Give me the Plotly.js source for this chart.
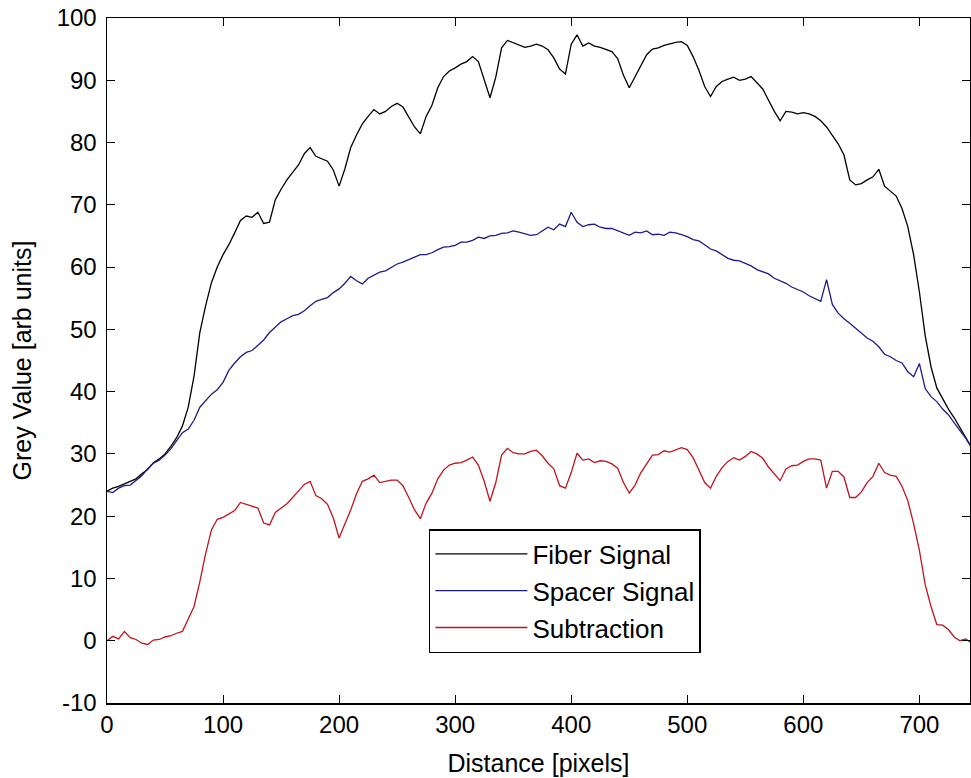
<!DOCTYPE html>
<html>
<head>
<meta charset="utf-8">
<script src="https://cdn.plot.ly/plotly-3.0.1.min.js"></script>
<style>html,body{margin:0;padding:0;background:#fff;}#chart{width:971px;height:778px;}</style>
</head>
<body>
<div id="chart"></div>
<script>
// Distance samples (pixels)
const distance = [0,5,10,15,20,25,30,35,40,45,50,55,60,65,70,75,80,85,90,95,
100,105,110,115,120,125,130,135,140,145,150,155,160,165,170,175,180,185,190,195,
200,205,210,215,220,225,230,235,240,245,250,255,260,265,270,275,280,285,290,295,
300,305,310,315,320,325,330,335,340,345,350,355,360,365,370,375,380,385,390,395,
400,405,410,415,420,425,430,435,440,445,450,455,460,465,470,475,480,485,490,495,
500,505,510,515,520,525,530,535,540,545,550,555,560,565,570,575,580,585,590,595,
600,605,610,615,620,625,630,635,640,645,650,655,660,665,670,675,680,685,690,695,
700,705,710,715,720,725,730,735,740,745];

const fiberSignal = [24.0,24.5,24.8,25.2,25.5,26.0,26.8,27.5,28.6,29.2,30.0,31.2,32.6,34.5,37.5,42.5,49.5,53.8,57.5,60.0,
62.0,63.6,65.5,67.5,68.2,68.0,68.8,67.0,67.2,70.8,72.5,74.0,75.2,76.4,78.2,79.2,77.8,77.4,77.0,75.6,
73.0,75.8,79.2,81.2,83.0,84.2,85.3,84.6,85.0,85.8,86.3,85.7,84.2,82.5,81.4,84.2,86.0,88.8,90.6,91.5,
92.0,92.6,93.0,93.8,93.0,90.2,87.2,90.5,95.2,96.4,96.0,95.6,95.3,95.5,95.8,95.5,94.9,93.6,91.8,91.0,
95.8,97.3,95.5,96.0,95.5,95.3,95.0,94.6,93.5,90.8,88.8,90.6,92.5,94.1,95.0,95.2,95.6,95.9,96.1,96.2,
95.6,93.8,91.6,89.0,87.4,89.0,89.8,90.2,90.5,90.0,90.2,90.6,89.6,88.6,86.8,85.0,83.5,85.0,84.9,84.6,
84.8,84.6,84.2,83.5,82.5,81.2,79.8,78.0,74.0,73.2,73.4,74.0,74.5,75.7,73.0,72.2,71.4,69.4,66.5,62.0,
56.0,49.0,44.0,40.6,38.8,37.2,35.8,34.2,32.6,31.0];

const spacerSignal = [24.0,23.8,24.5,24.9,25.0,25.8,26.5,27.6,28.5,29.0,29.8,30.8,32.0,33.4,34.0,35.4,37.5,38.5,39.6,40.3,
41.5,43.4,44.6,45.6,46.3,46.6,47.5,48.3,49.5,50.3,51.2,51.7,52.2,52.4,53.0,53.8,54.5,54.8,55.1,55.9,
56.5,57.4,58.5,57.8,57.3,58.2,58.7,59.2,59.4,60.0,60.5,60.8,61.2,61.6,62.0,62.0,62.3,62.8,63.2,63.3,
63.5,64.0,64.0,64.3,64.8,64.6,65.0,65.1,65.4,65.5,65.8,65.6,65.3,65.1,65.2,65.8,66.4,66.0,66.9,66.5,
68.8,67.2,66.5,66.8,66.9,66.4,66.2,66.2,65.8,65.4,65.1,65.6,65.5,65.8,65.2,65.3,65.1,65.6,65.5,65.2,
64.9,64.4,64.2,63.6,62.9,62.6,62.0,61.4,61.1,61.0,60.6,60.2,59.6,59.3,58.9,58.2,57.8,57.4,56.8,56.4,
56.0,55.4,55.0,54.5,58.0,54.0,52.6,51.7,51.0,50.2,49.5,48.6,48.1,47.2,46.0,45.6,45.0,44.6,43.2,42.4,
44.5,40.5,39.2,38.4,37.2,36.3,35.0,33.8,32.5,31.0];

const subtraction = [0.0,0.7,0.3,1.5,0.5,0.2,-0.4,-0.6,0.1,0.2,0.6,0.8,1.2,1.5,3.5,5.5,9.5,14.0,17.8,19.5,
19.8,20.4,20.9,22.2,21.9,21.6,21.3,18.9,18.6,20.6,21.3,22.0,23.0,24.0,25.1,25.6,23.3,22.8,21.9,19.7,
16.5,18.8,21.0,23.6,25.6,26.0,26.6,25.4,25.6,25.8,25.8,24.9,23.0,21.0,19.6,22.1,23.7,26.0,27.4,28.2,
28.5,28.6,29.0,29.5,28.2,25.6,22.4,25.4,29.8,30.9,30.2,30.0,30.0,30.4,30.6,29.7,28.5,27.6,24.9,24.5,
27.0,30.1,29.0,29.2,28.6,28.9,28.8,28.4,27.7,25.4,23.7,25.0,27.0,28.3,29.8,29.9,30.5,30.3,30.6,31.0,
30.7,29.4,27.4,25.4,24.5,26.4,27.8,28.8,29.4,29.0,29.6,30.4,30.0,29.3,27.9,26.8,25.7,27.6,28.1,28.2,
28.8,29.2,29.2,29.0,24.5,27.2,27.2,26.3,23.0,23.0,23.9,25.4,26.4,28.5,27.0,26.6,26.4,24.8,22.5,18.8,
14.5,9.0,5.5,2.6,2.5,1.8,0.6,0.0,0.3,-0.4];

const seriesNames = ["Fiber Signal", "Spacer Signal", "Subtraction"];
const xTickVals = [0,100,200,300,400,500,600,700];
const yTickVals = [-10,0,10,20,30,40,50,60,70,80,90,100];

const FONT = "Liberation Sans, Arial, Helvetica, sans-serif";

const traces = [
  {x: distance, y: fiberSignal, name: seriesNames[0], type: "scatter", mode: "lines",
   line: {color: "#000000", width: 1.3}},
  {x: distance, y: spacerSignal, name: seriesNames[1], type: "scatter", mode: "lines",
   line: {color: "#1c1c8a", width: 1.3}},
  {x: distance, y: subtraction, name: seriesNames[2], type: "scatter", mode: "lines",
   line: {color: "#c0141e", width: 1.3}}
];

const axisCommon = {
  showline: true, linecolor: "#000", linewidth: 1.5, mirror: "ticks",
  ticks: "inside", ticklen: 8, tickwidth: 1, tickcolor: "#000",
  showgrid: false, zeroline: false,
  tickfont: {family: FONT, size: 24, color: "#000"}
};

const layout = {
  width: 971, height: 778,
  margin: {l: 107, r: 1, t: 18, b: 75, pad: 0},
  paper_bgcolor: "#fff", plot_bgcolor: "#fff",
  font: {family: FONT, size: 24, color: "#000"},
  showlegend: true,
  xaxis: Object.assign({}, axisCommon, {
    range: [0, 743.6], tickmode: "array", tickvals: xTickVals,
    ticktext: xTickVals.map(String),
    title: {text: "Distance [pixels]", font: {family: FONT, size: 25, color: "#000"}, standoff: 17}
  }),
  yaxis: Object.assign({}, axisCommon, {
    range: [-10, 100], tickmode: "array", tickvals: yTickVals,
    ticktext: yTickVals.map(String),
    ticklabelstandoff: 4,
    title: {text: "Grey Value [arb units]", font: {family: FONT, size: 25, color: "#000"}, standoff: 18}
  }),
  legend: {
    x: 0.373, y: 0.254, xanchor: "left", yanchor: "top",
    bgcolor: "#fff", bordercolor: "#000", borderwidth: 1.5,
    font: {family: FONT, size: 26, color: "#000"},
    itemwidth: 92, tracegroupgap: 0
  }
};

Plotly.newPlot("chart", traces, layout, {staticPlot: true, displayModeBar: false});
</script>
</body>
</html>
